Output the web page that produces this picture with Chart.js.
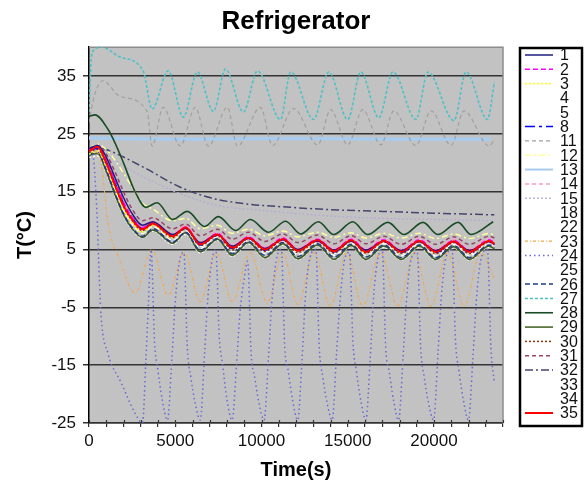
<!DOCTYPE html>
<html><head><meta charset="utf-8">
<script src="https://cdn.jsdelivr.net/npm/chart.js@4.4.1/dist/chart.umd.min.js"></script>
<style>html,body{margin:0;padding:0;background:#fff}#wrap{width:588px;height:484px}</style>
</head><body><div id="wrap"><canvas id="c" width="588" height="484"></canvas></div>
<script>
// ---------------- DATA ----------------
const title = 'Refrigerator';
const xTitle = 'Time(s)';
const yTitle = 'T(\u00B0C)';
const yTicks = [-25, -15, -5, 5, 15, 25, 35];
const xMin = 0, xMax = 24000, xStep = 1000, xLabelStep = 5000;
const yMin = -25, yMax = 40;

// shared time grid for the main cluster of sensors (s)
const tCluster = [0, 500, 1000, 1500, 2000, 2500, 3100, 3700, 4850, 5600, 6450, 7450, 8300, 9250, 10200, 11250, 12100, 13250, 14200, 15200, 16050, 17100, 18100, 19150, 20100, 21150, 22050, 23200, 23500];
const s1  = [22.5, 23.0, 21.0, 17.5, 14.0, 11.2, 9.2, 9.8, 7.6, 8.7, 6.2, 7.6, 5.6, 7.0, 5.2, 6.8, 5.0, 6.6, 4.9, 6.5, 4.9, 6.5, 4.8, 6.4, 4.8, 6.4, 4.8, 6.4, 6.0];
const s2  = [22.3, 23.0, 20.6, 17.0, 13.2, 10.6, 8.8, 9.7, 7.5, 8.9, 6.1, 7.8, 5.5, 7.2, 5.2, 7.0, 5.0, 6.8, 4.9, 6.8, 4.9, 6.7, 4.8, 6.7, 4.8, 6.6, 4.8, 6.7, 6.2];
const s3  = [21.5, 22.0, 19.5, 15.6, 12.0, 9.6, 8.0, 9.2, 7.0, 8.6, 5.7, 7.5, 5.1, 6.9, 4.9, 6.7, 4.7, 6.5, 4.6, 6.5, 4.5, 6.4, 4.5, 6.4, 4.5, 6.3, 4.5, 6.4, 5.9];
const s4  = [21.0, 21.2, 18.2, 14.2, 10.8, 8.4, 7.0, 8.2, 5.9, 7.6, 4.4, 6.6, 3.8, 6.0, 3.5, 5.8, 3.3, 5.6, 3.2, 5.5, 3.2, 5.4, 3.2, 5.4, 3.2, 5.3, 3.2, 5.4, 5.0];
const s5  = [21.8, 22.2, 19.4, 15.4, 11.8, 9.4, 7.8, 9.0, 6.6, 8.3, 5.2, 7.2, 4.6, 6.6, 4.3, 6.4, 4.1, 6.2, 4.0, 6.1, 4.0, 6.0, 3.9, 6.0, 3.9, 5.9, 3.9, 6.0, 5.6];
const s8  = [22.2, 22.5, 20.2, 16.6, 13.0, 10.5, 8.7, 9.6, 7.4, 8.7, 5.8, 7.5, 5.2, 6.9, 4.9, 6.7, 4.8, 6.5, 4.6, 6.5, 4.6, 6.4, 4.5, 6.4, 4.5, 6.3, 4.5, 6.4, 5.9];
const s12 = [22.5, 23.2, 22.3, 20.5, 18.2, 15.8, 13.0, 12.0, 10.0, 10.4, 8.6, 9.2, 7.8, 8.5, 7.4, 8.2, 7.2, 8.0, 7.1, 7.9, 7.0, 7.8, 7.0, 7.8, 6.9, 7.7, 6.9, 7.8, 7.4];
const s14 = [22.5, 23.0, 20.8, 17.2, 13.6, 11.0, 9.2, 10.0, 7.8, 9.1, 6.4, 8.0, 5.8, 7.4, 5.5, 7.2, 5.3, 7.0, 5.2, 7.0, 5.2, 6.9, 5.1, 6.9, 5.1, 6.8, 5.1, 6.9, 6.4];
const s18 = [22.0, 22.4, 19.9, 16.0, 12.3, 9.9, 8.2, 9.3, 7.0, 8.5, 5.5, 7.4, 4.9, 6.8, 4.6, 6.6, 4.4, 6.4, 4.3, 6.3, 4.3, 6.2, 4.2, 6.2, 4.2, 6.1, 4.2, 6.2, 5.8];
const s26 = [21.5, 21.8, 18.8, 14.8, 11.2, 8.8, 7.3, 8.6, 6.3, 8.0, 4.9, 6.9, 4.3, 6.4, 4.0, 6.2, 3.8, 6.0, 3.7, 5.9, 3.7, 5.8, 3.6, 5.8, 3.6, 5.7, 3.6, 5.8, 5.3];
const s29 = [21.3, 21.6, 18.5, 14.5, 11.0, 8.6, 7.1, 8.4, 6.1, 7.9, 4.6, 6.8, 4.0, 6.2, 3.6, 6.0, 3.4, 5.8, 3.3, 5.7, 3.3, 5.6, 3.3, 5.6, 3.3, 5.5, 3.3, 5.6, 5.1];
const s30 = [21.8, 22.3, 19.8, 16.0, 12.4, 10.0, 8.3, 9.4, 7.1, 8.6, 5.7, 7.4, 5.0, 6.9, 4.7, 6.6, 4.5, 6.4, 4.4, 6.4, 4.4, 6.3, 4.3, 6.3, 4.3, 6.2, 4.3, 6.3, 5.8];
const s31 = [22.5, 23.0, 21.5, 18.5, 15.0, 12.0, 10.0, 10.5, 8.6, 9.4, 7.4, 8.5, 6.8, 8.0, 6.4, 7.7, 6.2, 7.5, 6.0, 7.4, 6.0, 7.3, 5.9, 7.3, 5.9, 7.2, 5.9, 7.3, 7.0];
const s35 = [22.0, 22.8, 20.0, 16.2, 12.6, 10.2, 8.5, 9.5, 7.3, 8.8, 5.9, 7.6, 5.3, 7.0, 5.0, 6.8, 4.8, 6.6, 4.7, 6.6, 4.6, 6.5, 4.6, 6.5, 4.6, 6.4, 4.6, 6.5, 6.0];

// sensors with their own time stamps
const t11 = [0, 300, 800, 1800, 3370, 3660, 4300, 5290, 6160, 6920, 8020, 8600, 9940, 10640, 11860, 13260, 14010, 15000, 15870, 16920, 17670, 18950, 19830, 20990, 21740, 23200, 23500];
const v11 = [27, 31.5, 34.2, 31.5, 28.9, 22.9, 29.6, 22.9, 29.6, 22.9, 29.6, 22.9, 29.6, 23.0, 29.4, 23.1, 29.2, 23.1, 29.2, 23.1, 29.0, 23.0, 29.0, 23.0, 29.0, 22.9, 24];

const t13 = [0, 6000, 12000, 18000, 23300];
const v13 = [24.3, 24.1, 24.2, 24.1, 24.1];

const t15 = [0, 300, 1000, 2000, 3000, 3840, 5000, 7500, 10000, 13000, 16000, 20000, 23500];
const v15 = [22, 22.5, 21.5, 19.5, 17.8, 16.6, 15.0, 12.6, 11.8, 11.0, 10.5, 10.2, 10.0];

const t23 = [0, 300, 700, 1100, 1800, 2670, 3650, 4590, 5520, 6450, 7380, 8310, 9330, 10350, 11230, 12100, 13050, 14000, 14940, 15870, 16890, 17900, 18860, 19830, 20790, 21750, 22700, 23500];
const v23 = [22, 22, 20, 9.7, 3, -2.5, 5, -3, 4.5, -4, 4.5, -4, 4.5, -4.2, 4.5, -4.5, 4.5, -4.8, 4.5, -4.8, 4.5, -4.8, 4.5, -4.8, 4.5, -4.8, 4.5, 0];

const t24 = [0, 200, 450, 600, 700, 1100, 1860, 2670, 3100, 3300, 3450, 3600,
  3800, 4000, 4250, 4550, 4800, 5000, 5250, 5500,
  5700, 5900, 6150, 6450, 6700, 6900, 7150, 7350,
  7550, 7750, 8000, 8300, 8550, 8750, 9000, 9200,
  9400, 9600, 9850, 10150, 10400, 10600, 10850, 11150,
  11350, 11550, 11800, 12100, 12350, 12550, 12800, 13150,
  13350, 13550, 13800, 14100, 14350, 14550, 14800, 15100,
  15300, 15500, 15750, 16050, 16300, 16500, 16750, 17000,
  17200, 17400, 17650, 17950, 18200, 18400, 18650, 19030,
  19230, 19430, 19680, 19980, 20230, 20430, 20680, 21050,
  21250, 21450, 21700, 22000, 22250, 22450, 22700, 23100,
  23300, 23500];
const v24 = [21, 21.5, 12, 0, -6.5, -13, -18, -23.3, -25, -14, -4, 5,
  -11, -16, -21, -24.5, -14, -4, 3, 4.5,
  -12, -17, -21.5, -24.5, -13, -3, 3.5, 5,
  -10, -15, -21, -24.5, -15, -6, 0, 3,
  -13, -17, -21.5, -24.5, -14, -4, 3, 5,
  -12, -16, -21, -24.5, -14, -3, 3.5, 5,
  -12, -17, -21.5, -24.5, -13, -4, 3, 4.5,
  -11, -16, -21, -24.5, -14, -3, 3.5, 5,
  -12, -16, -21, -24.5, -14, -4, 3, 4.5,
  -12, -17, -21.5, -24.5, -13, -3, 3.5, 5,
  -11, -16, -21, -24.5, -14, -4, 3, 5,
  -12, -18];

const t27 = [0, 150, 400, 750, 1800, 3140, 3660, 4590, 5470, 6280, 7210, 7910, 8950, 9770, 11100, 11690, 13020, 13900, 15000, 15760, 16800, 17620, 18950, 19650, 21160, 21860, 23100, 23500];
const v27 = [28.8, 38.5, 39.8, 40, 38.3, 35.9, 29.3, 35.9, 27.9, 35.7, 28.9, 36.2, 28.8, 35.9, 27.5, 35.7, 27.5, 35.7, 27.5, 35.7, 27.8, 35.7, 27.5, 35.7, 27.3, 35.7, 27.5, 34];

const t28 = [0, 350, 1100, 1500, 2000, 2670, 3300, 3950, 4850, 5700, 6700, 7500, 8500, 9360, 10400, 11400, 12270, 13300, 14190, 15290, 16160, 17330, 18260, 19360, 20230, 21400, 22150, 23430];
const v28 = [28, 28.3, 25.8, 23.5, 20, 15, 12.3, 13.1, 10.2, 11.6, 9.0, 10.7, 8.3, 10.2, 8.0, 9.9, 7.7, 9.8, 7.6, 9.8, 7.6, 9.7, 7.6, 9.7, 7.6, 9.7, 7.6, 9.8];

const t32 = [0, 300, 1000, 2000, 3370, 5200, 7100, 9100, 11700, 14000, 17000, 20000, 23500];
const v32 = [22, 22.8, 22.3, 21, 18.9, 15.9, 13.9, 12.9, 12.3, 11.9, 11.6, 11.3, 11.0];

const empty = [];

// legend order (sensor numbers) and the (times, values) source of each
const labels = ['1','2','3','4','5','8','11','12','13','14','15','18','22','23','24','25','26','27','28','29','30','31','32','33','34','35'];
const sources = {
  '1': [tCluster, s1], '2': [tCluster, s2], '3': [tCluster, s3], '4': [tCluster, s4], '5': [tCluster, s5],
  '8': [tCluster, s8], '11': [t11, v11], '12': [tCluster, s12], '13': [t13, v13], '14': [tCluster, s14],
  '15': [t15, v15], '18': [tCluster, s18], '22': [empty, empty], '23': [t23, v23], '24': [t24, v24],
  '25': [empty, empty], '26': [tCluster, s26], '27': [t27, v27], '28': [t28, v28], '29': [tCluster, s29],
  '30': [tCluster, s30], '31': [tCluster, s31], '32': [t32, v32], '33': [empty, empty], '34': [empty, empty],
  '35': [tCluster, s35]
};

// ---------------- STYLES ----------------
const styles = {
  '1':  {c: '#1c1c80', d: [], w: 1.5, o: 4},
  '2':  {c: '#ff00ff', d: [5, 3], w: 1.5, o: 4},
  '3':  {c: '#ffff00', d: [2, 2], w: 1.5, o: 5},
  '4':  {c: '#ffffff', d: [2, 2], w: 1.3, o: 8},
  '5':  {c: '#ffffff', d: [5, 3], w: 1.3, o: 8},
  '8':  {c: '#0000ff', d: [10, 4, 3, 4], w: 1.5, o: 4},
  '11': {c: '#a0a0a0', d: [4, 3], w: 1.2, o: 6},
  '12': {c: '#ffff99', d: [6, 3, 2, 3], w: 1.5, o: 5},
  '13': {c: '#a8cbee', d: [], w: 3.5, o: 7},
  '14': {c: '#ff99cc', d: [4, 3], w: 1.5, o: 4},
  '15': {c: '#b4acd4', d: [2, 2], w: 1.3, o: 6},
  '18': {c: '#ffffff', d: [6, 2, 2, 2], w: 1.3, o: 8},
  '22': {c: '#ffffff', d: [], w: 1.3, o: 8},
  '23': {c: '#f5a64a', d: [3, 2, 1, 2], w: 1.1, o: 3},
  '24': {c: '#6a6ad6', d: [1.5, 3], w: 1.5, o: 1},
  '25': {c: '#ffffff', d: [], w: 1.3, o: 8},
  '26': {c: '#1f3f7f', d: [5, 3], w: 1.5, o: 5},
  '27': {c: '#4cc2c8', d: [3, 2], w: 1.6, o: 3},
  '28': {c: '#1a4d26', d: [], w: 1.6, o: 2},
  '29': {c: '#3d5c1f', d: [], w: 1.5, o: 6},
  '30': {c: '#993300', d: [2, 2], w: 1.5, o: 4},
  '31': {c: '#994466', d: [4, 3], w: 1.5, o: 4},
  '32': {c: '#45456e', d: [8, 3, 2, 3], w: 1.5, o: 5},
  '33': {c: '#ffffff', d: [], w: 1.3, o: 8},
  '34': {c: '#ffffff', d: [], w: 1.3, o: 8},
  '35': {c: '#ff0000', d: [], w: 2, o: 0}
};
const FONT = '"Liberation Sans", Arial, Helvetica, sans-serif';

const datasets = labels.map(lab => {
  const [t, v] = sources[lab];
  const st = styles[lab];
  return {
    label: lab,
    data: t.map((x, i) => ({x: x, y: v[i]})),
    borderColor: st.c, backgroundColor: st.c, borderDash: st.d, borderWidth: st.w,
    pointRadius: 0, fill: false, cubicInterpolationMode: 'monotone', order: st.o
  };
});

const framePlugin = {
  id: 'frame',
  beforeDraw(chart) {
    const a = chart.chartArea, ctx = chart.ctx;
    ctx.save();
    ctx.fillStyle = '#c2c2c2';
    ctx.fillRect(a.left, a.top, a.right - a.left, a.bottom - a.top);
    ctx.restore();
  },
  beforeDatasetsDraw(chart) {
    const a = chart.chartArea, ctx = chart.ctx;
    ctx.save();
    ctx.strokeStyle = '#8c8c8c'; ctx.lineWidth = 1.5;
    ctx.beginPath();
    ctx.moveTo(a.left, a.top); ctx.lineTo(a.right, a.top); ctx.lineTo(a.right, a.bottom);
    ctx.stroke();
    ctx.restore();
  },
  afterDraw(chart) {
    const ctx = chart.ctx, xs = chart.scales.x, a = chart.chartArea;
    ctx.save();
    // x tick marks crossing the axis (inner half)
    ctx.strokeStyle = '#333'; ctx.lineWidth = 1.2;
    xs.ticks.forEach(t => {
      const px = Math.round(xs.getPixelForValue(t.value)) + 0.5;
      ctx.beginPath(); ctx.moveTo(px, a.bottom - 3); ctx.lineTo(px, a.bottom); ctx.stroke();
    });
    // legend
    ctx.strokeStyle = '#000'; ctx.lineWidth = 2.5; ctx.setLineDash([]);
    ctx.strokeRect(520, 48, 62, 378);
    chart.data.datasets.forEach((ds, i) => {
      const y = 55 + i * 14.32;
      ctx.beginPath();
      ctx.setLineDash(ds.borderDash || []);
      ctx.strokeStyle = ds.borderColor;
      ctx.lineWidth = Math.min(ds.borderWidth, 2);
      ctx.moveTo(525, y); ctx.lineTo(553, y); ctx.stroke();
      ctx.setLineDash([]);
      ctx.fillStyle = '#111';
      ctx.font = '16px ' + FONT;
      ctx.textBaseline = 'middle'; ctx.textAlign = 'left';
      ctx.fillText(ds.label, 560, y + 1);
    });
    ctx.restore();
  }
};

new Chart(document.getElementById('c'), {
  type: 'line',
  data: {datasets},
  plugins: [framePlugin],
  options: {
    responsive: false, animation: false, devicePixelRatio: 1,
    layout: {padding: {left: 0, right: 85, top: 0, bottom: 0}},
    plugins: {
      legend: {display: false}, tooltip: {enabled: false},
      title: {display: true, text: title, fullSize: false, color: '#000',
        font: {family: FONT, size: 26, weight: 'bold'}, padding: {top: 6, bottom: 10}}
    },
    scales: {
      x: {
        type: 'linear', min: xMin, max: xMax,
        afterFit: s => { s.height = 61; },
        ticks: {stepSize: xStep, autoSkip: false, maxRotation: 0, padding: 4, color: '#111',
          font: {family: FONT, size: 17},
          callback: v => (v % xLabelStep === 0 ? String(v) : '')},
        grid: {display: true, drawOnChartArea: false, drawTicks: true, tickLength: 4, color: '#333', lineWidth: 1.2},
        border: {display: true, color: '#333', width: 1.5},
        title: {display: true, text: xTitle, color: '#000', font: {family: FONT, size: 20, weight: 'bold'}, padding: {top: 0, bottom: 2}}
      },
      y: {
        type: 'linear', min: yMin, max: yMax,
        afterFit: s => { s.width = 89; },
        afterBuildTicks: s => { s.ticks = yTicks.map(v => ({value: v})); },
        ticks: {padding: 7, color: '#111', font: {family: FONT, size: 17}, callback: v => String(v)},
        grid: {color: '#333', lineWidth: 1.5, tickLength: 6, drawTicks: true},
        border: {display: true, color: '#000', width: 1.5},
        title: {display: true, text: yTitle, color: '#000', font: {family: FONT, size: 20, weight: 'bold'}, padding: {top: 13, bottom: 0}}
      }
    }
  }
});
</script></body></html>
